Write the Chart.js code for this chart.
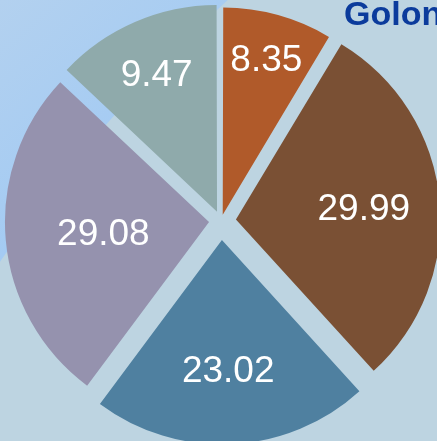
<!DOCTYPE html>
<html>
<head>
<meta charset="utf-8">
<script src="https://cdn.jsdelivr.net/npm/chart.js"></script>
<style>
  html, body { margin: 0; padding: 0; background: #bdd4e1; }
  #wrap { width: 437px; height: 441px; position: relative; }
</style>
</head>
<body>
<div id="wrap"><canvas id="pieChart"></canvas></div>
<script>
// slice sizes, percent of the circle
const sliceShares = [8.61, 29.64, 21.94, 26.81, 13.00];
// numbers printed on the slices
const valueLabels = ['8.35', '29.99', '23.02', '29.08', '9.47'];
const sliceColors = ['#b05a2a', '#7a5034', '#4f80a0', '#9592ae', '#8faaab'];
const sliceOffsets = [26, 60, 76, 48, 40]; // chart.js pulls a slice out by offset / 4
const labelDepth = [0.80, 0.63, 0.63, 0.52, 0.745];
const titleText = 'Golongan';

// Background: light sky blue corner, grey-blue panel
const backdrop = {
  id: 'backdrop',
  beforeDraw(chart) {
    const ctx = chart.ctx;
    ctx.save();
    const g = ctx.createLinearGradient(0, 0, 230, 260);
    g.addColorStop(0, '#b3d1ef');
    g.addColorStop(1, '#98c6f6');
    ctx.fillStyle = g;
    ctx.fillRect(0, 0, chart.width, chart.height);
    ctx.beginPath();
    ctx.arc(1240, 1111, 1503, 0, Math.PI * 2);
    ctx.fillStyle = '#bdd4e1';
    ctx.fill();
    ctx.restore();
  }
};

// Values on the slices + title
const sliceText = {
  id: 'sliceText',
  afterDatasetsDraw(chart) {
    const ctx = chart.ctx;
    const meta = chart.getDatasetMeta(0);
    ctx.save();
    ctx.font = '37px "Liberation Sans", Arial, sans-serif';
    ctx.fillStyle = '#ffffff';
    ctx.textAlign = 'center';
    ctx.textBaseline = 'alphabetic';
    meta.data.forEach((arc, i) => {
      const mid = (arc.startAngle + arc.endAngle) / 2;
      const shift = (arc.options.offset || 0) / 4;
      const d = shift + labelDepth[i] * arc.outerRadius;
      const x = arc.x + Math.cos(mid) * d;
      const y = arc.y + Math.sin(mid) * d;
      ctx.fillText(valueLabels[i], x, y + 37 * 0.358);
    });
    ctx.font = 'bold 34px "Liberation Sans", Arial, sans-serif';
    ctx.fillStyle = '#0b3b9c';
    ctx.textAlign = 'left';
    ctx.fillText(titleText, 344, 25);
    ctx.restore();
  }
};

new Chart(document.getElementById('pieChart'), {
  type: 'pie',
  data: {
    labels: valueLabels,
    datasets: [{
      data: sliceShares,
      backgroundColor: sliceColors,
      borderWidth: 0,
      offset: sliceOffsets,
      hoverOffset: 0,
      radius: 204
    }]
  },
  options: {
    responsive: true,
    maintainAspectRatio: false,
    animation: false,
    events: [],
    layout: { padding: { left: 5, right: 0, top: 1, bottom: 0 } },
    plugins: {
      legend: { display: false },
      tooltip: { enabled: false }
    }
  },
  plugins: [backdrop, sliceText]
});
</script>
</body>
</html>
